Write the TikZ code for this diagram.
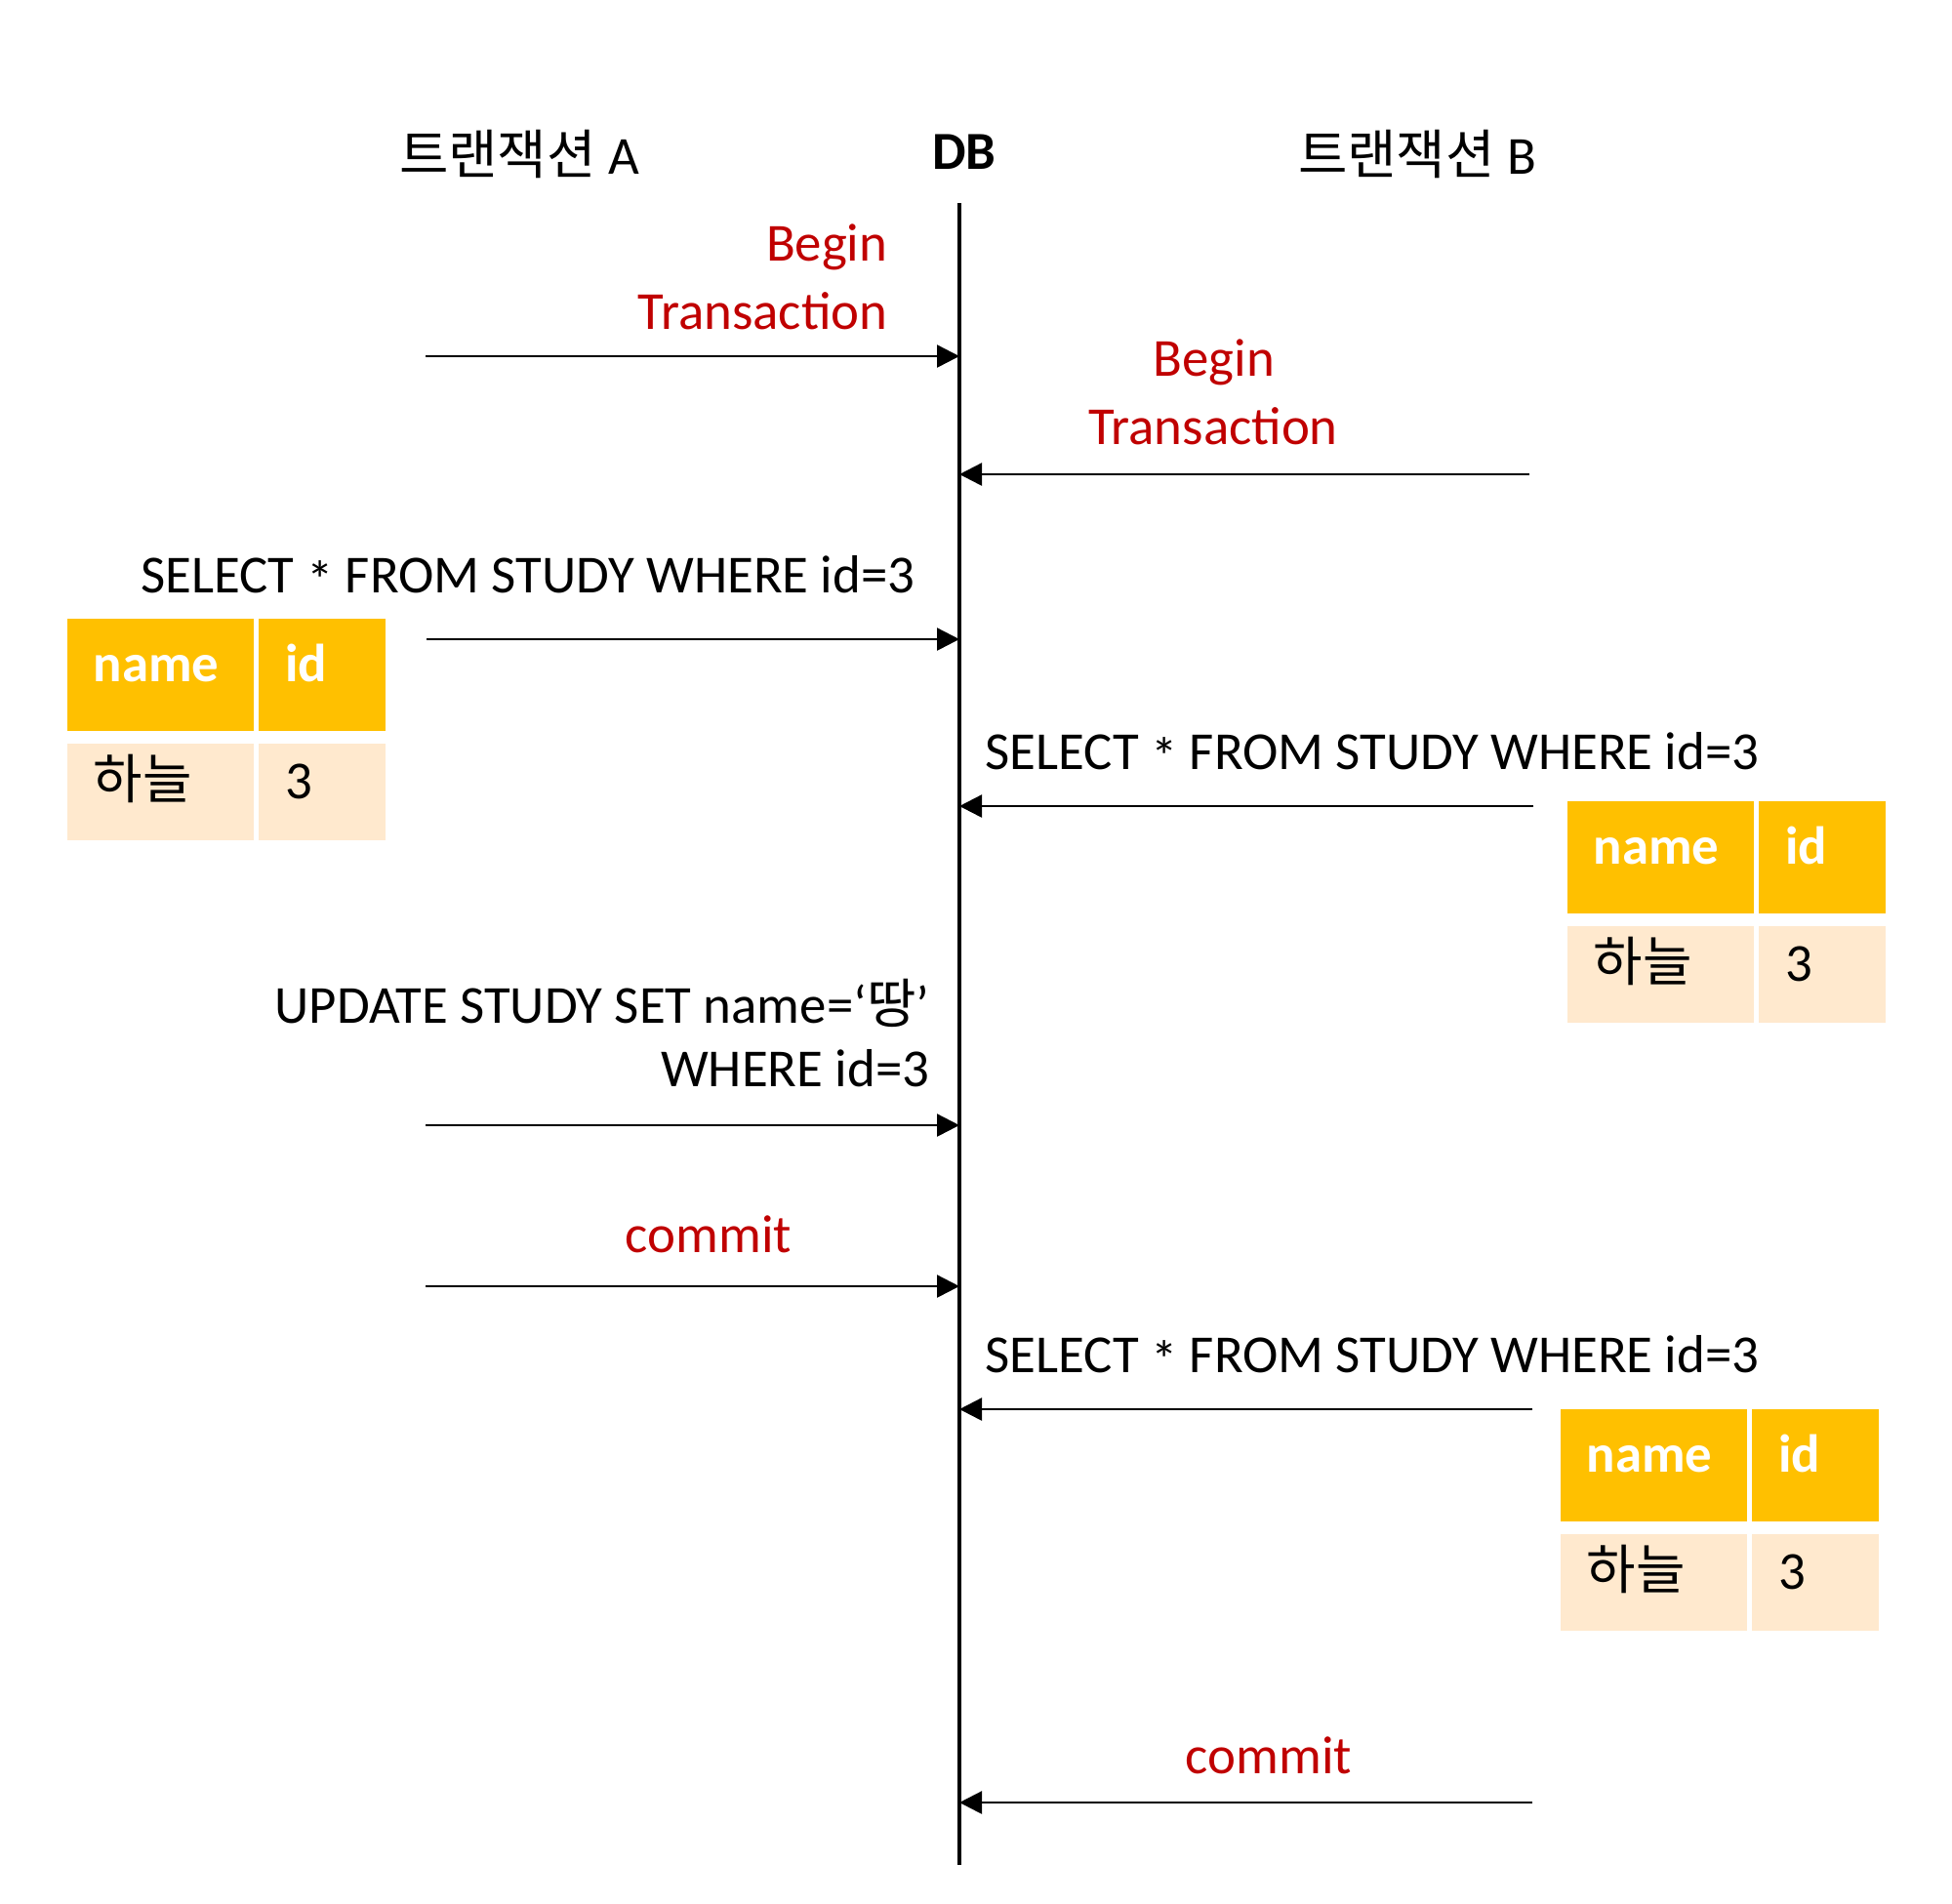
\documentclass[tikz,border=0pt]{standalone}
\usepackage{fontspec}
\setmainfont{Carlito}
\newfontfamily\kr{Noto Sans CJK KR}
\usetikzlibrary{arrows.meta, calc, positioning}

\definecolor{txred}{HTML}{C00000}
\definecolor{hdgold}{HTML}{FFC000}
\definecolor{rowpeach}{HTML}{FFE9CE}

\newcommand{\qstar}{\raisebox{-0.12em}{*}}

\tikzset{
  lbl/.style={inner sep=0pt, anchor=base},
  redlbl/.style={lbl, text=txred},
  msg/.style={-{Triangle[length=0.23cm,width=0.23cm]}, line width=0.7pt},
  cell/.style={anchor=north west, inner xsep=0.27cm, inner ysep=0pt, align=left,
    text height=0.4cm, text depth=0.26cm},
  hdcell/.style={cell, fill=hdgold, text=white, font=\fontsize{15.6pt}{19pt}\selectfont\bfseries, minimum height=1.15cm},
  rowcell/.style={cell, fill=rowpeach, minimum height=0.99cm}
}

\begin{document}
\begin{tikzpicture}[font=\fontsize{15.6pt}{19pt}\selectfont]
\useasboundingbox (0,0) rectangle (20,-19.5);

%% column titles
\node[lbl] (ta) at (5.32,-1.78) {{\kr 트랜잭션} A};
\node[lbl, font=\fontsize{15.6pt}{19pt}\selectfont\bfseries] (db) at (9.88,-1.73) {DB};
\node[lbl] (tb) at (14.52,-1.78) {{\kr 트랜잭션} B};

%% DB time line
\coordinate (dbtop) at (9.83,-2.08);
\coordinate (dbbot) at (9.83,-19.11);
\draw[line width=1.3pt] (dbtop) -- (dbbot);

%% begin transaction A
\node[redlbl, anchor=base east] (begina) at (9.10,-2.67) {Begin};
\node[redlbl, anchor=base east] (transa) at (9.10,-3.37) {Transaction};
\coordinate (a1) at (4.36,-3.65);
\draw[msg] (a1) -- (a1 -| dbtop);

%% begin transaction B
\node[redlbl] (beginb) at (12.44,-3.85) {Begin};
\node[redlbl] (transb) at (12.43,-4.55) {Transaction};
\coordinate (a2) at (15.67,-4.86);
\draw[msg] (a2) -- (a2 -| dbtop);

%% select A
\node[lbl] (sela) at (5.41,-6.07) {SELECT \qstar{} FROM STUDY WHERE id=3};
\coordinate (a3) at (4.37,-6.55);
\draw[msg] (a3) -- (a3 -| dbtop);

%% select B
\node[lbl] (selb) at (14.06,-7.88) {SELECT \qstar{} FROM STUDY WHERE id=3};
\coordinate (a4) at (15.71,-8.26);
\draw[msg] (a4) -- (a4 -| dbtop);

%% update A
\node[lbl, anchor=base east] (upda) at (9.53,-10.48) {UPDATE STUDY SET name=‘{\kr 땅}’};
\node[lbl, anchor=base east] (whra) at (9.53,-11.13) {WHERE id=3};
\coordinate (a5) at (4.36,-11.53);
\draw[msg] (a5) -- (a5 -| dbtop);

%% commit A
\node[redlbl] (coma) at (7.26,-12.83) {commit};
\coordinate (a6) at (4.36,-13.18);
\draw[msg] (a6) -- (a6 -| dbtop);

%% select B again
\node[lbl] (selb2) at (14.06,-14.06) {SELECT \qstar{} FROM STUDY WHERE id=3};
\coordinate (a7) at (15.70,-14.44);
\draw[msg] (a7) -- (a7 -| dbtop);

%% commit B
\node[redlbl] (comb) at (13.00,-18.17) {commit};
\coordinate (a8) at (15.70,-18.47);
\draw[msg] (a8) -- (a8 -| dbtop);

%% result tables
\foreach \tx/\ty/\tn in {0.68/-6.33/rsa, 16.05/-8.20/rsb, 15.98/-14.43/rsc} {
  \node[hdcell, text width=1.37cm] (\tn-name) at (\tx,\ty) {name};
  \node[hdcell, text width=0.76cm] (\tn-id) at ($(\tn-name.north east)+(0.04,0)$) {id};
  \node[rowcell, text width=1.37cm] (\tn-val) at ($(\tn-name.south west)+(0,-0.12)$) {\kr 하늘};
  \node[rowcell, text width=0.76cm] (\tn-num) at ($(\tn-id.south west)+(0,-0.12)$) {3};
}

\end{tikzpicture}
\end{document}
